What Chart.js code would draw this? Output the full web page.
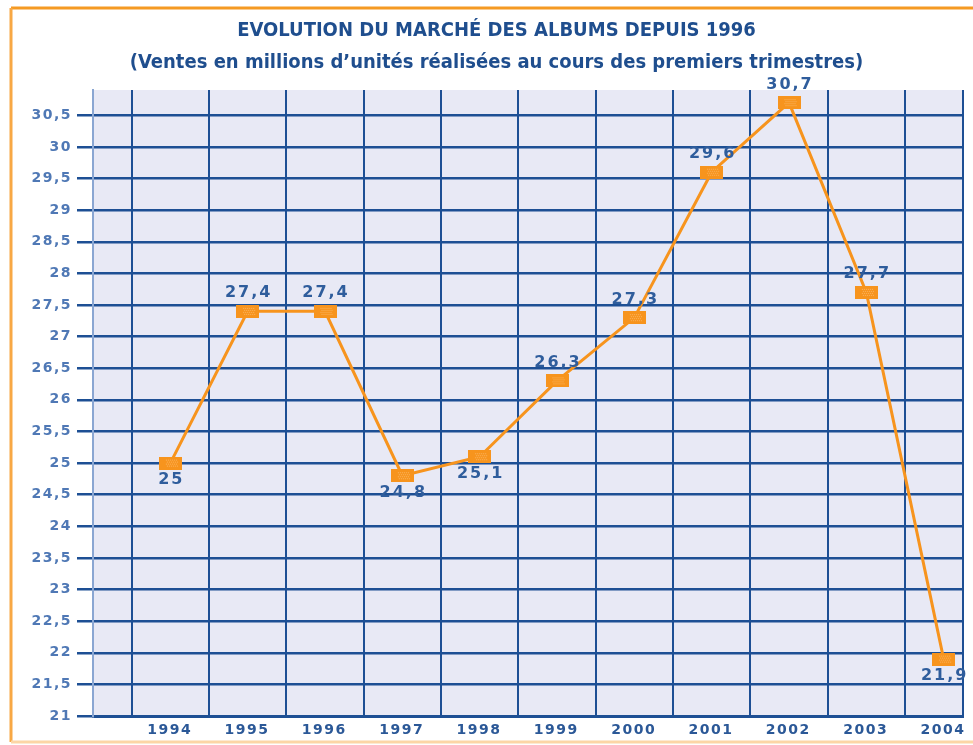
<!DOCTYPE html>
<html>
<head>
<meta charset="utf-8">
<script src="https://cdn.jsdelivr.net/npm/chart.js@4"></script>
<style>
    html, body { margin: 0; padding: 0; background: #fff; }
    #wrap { width: 973px; height: 745px; position: relative; }
</style>
</head>
<body>
<div id="wrap"><canvas id="chart" width="973" height="745"></canvas></div>
<script>
"use strict";

// data
const years = [1994, 1995, 1996, 1997, 1998, 1999, 2000, 2001, 2002, 2003, 2004];
const sales = [25, 27.4, 27.4, 24.8, 25.1, 26.3, 27.3, 29.6, 30.7, 27.7, 21.9];
const yTicks = [21, 21.5, 22, 22.5, 23, 23.5, 24, 24.5, 25, 25.5, 26, 26.5, 27, 27.5, 28, 28.5, 29, 29.5, 30, 30.5];
const labelsBelow = [0, 3, 4, 10]; // points whose value is written under the marker

const frenchNumber = v => String(v).replace(".", ",");

const canvas = document.getElementById("chart");

// orange box used as point marker, a bit of dither in the middle like the scan
const marker = document.createElement("canvas");
marker.width = 23;
marker.height = 13;
const mctx = marker.getContext("2d");
mctx.fillStyle = "#f7941d";
mctx.fillRect(0, 0, 23, 13);
mctx.fillStyle = "#fbb461";
for (let px = 7; px < 18; px += 2) {
    for (let py = 3; py < 10; py += 2) {
        mctx.fillRect(px + (py % 4 === 1 ? 1 : 0), py, 1, 1);
    }
}

const frameAndBackground = {
    id: "frameAndBackground",
    beforeDraw(chart) {
        const ctx = chart.ctx;
        const a = chart.chartArea;
        ctx.save();
        ctx.letterSpacing = "0px";
        // orange frame (cut off on the right)
        ctx.lineWidth = 3;
        ctx.strokeStyle = "#f59a23";
        ctx.beginPath();
        ctx.moveTo(11, 8);
        ctx.lineTo(973, 8);
        ctx.stroke();
        ctx.strokeStyle = "#f8a844";
        ctx.beginPath();
        ctx.moveTo(11, 8);
        ctx.lineTo(11, 742);
        ctx.stroke();
        ctx.strokeStyle = "#fcd6a6";
        ctx.beginPath();
        ctx.moveTo(11, 742);
        ctx.lineTo(973, 742);
        ctx.stroke();
        // plot background
        ctx.fillStyle = "#e8e9f5";
        ctx.fillRect(a.left, a.top, a.right - a.left, a.bottom - a.top);
        ctx.restore();
    },
    beforeDatasetsDraw(chart) {
        // the numbers of the original are set in a wide font
        chart.ctx.letterSpacing = "1.5px";
    },
    afterDraw(chart) {
        chart.ctx.letterSpacing = "0px";
    }
};

const valueLabels = {
    id: "valueLabels",
    afterDatasetsDraw(chart) {
        const ctx = chart.ctx;
        const meta = chart.getDatasetMeta(0);
        ctx.save();
        ctx.letterSpacing = "2px";
        ctx.font = "bold 16px 'DejaVu Sans', sans-serif";
        ctx.fillStyle = "#2f5d9c";
        ctx.textAlign = "center";
        ctx.textBaseline = "middle";
        meta.data.forEach((pt, i) => {
            const dy = labelsBelow.includes(i) ? 17 : -18;
            ctx.fillText(frenchNumber(sales[i]), pt.x + 1, pt.y + dy);
        });
        ctx.restore();
    }
};

new Chart(canvas, {
    type: "line",
    data: {
        datasets: [{
            label: "Ventes",
            data: years.map((y, i) => ({ x: y, y: sales[i] })),
            borderColor: "#f7941d",
            borderWidth: 3,
            pointStyle: marker,
            pointRadius: 7,
            tension: 0,
        }]
    },
    options: {
        responsive: false,
        animation: false,
        devicePixelRatio: 1,
        layout: {
            padding: { left: 28, right: 8, top: 10, bottom: 0 }
        },
        plugins: {
            legend: { display: false },
            tooltip: { enabled: false },
            title: {
                display: true,
                text: "EVOLUTION DU MARCHÉ DES ALBUMS DEPUIS 1996",
                color: "#1f4e8e",
                font: { family: "'Liberation Sans Narrow', 'DejaVu Sans Condensed', sans-serif", size: 20, weight: "bold", lineHeight: 1.2 },
                padding: { top: 9, bottom: 4 }
            },
            subtitle: {
                display: true,
                text: "(Ventes en millions d’unités réalisées au cours des premiers trimestres)",
                color: "#1f4e8e",
                font: { family: "'Liberation Sans Narrow', 'DejaVu Sans Condensed', sans-serif", size: 20, weight: "bold", lineHeight: 1.2 },
                padding: { top: 4, bottom: 15 }
            }
        },
        scales: {
            x: {
                type: "linear",
                min: 1993,
                max: 2004.25,
                afterBuildTicks: scale => {
                    // grid lines sit between the years, plus the right edge
                    scale.ticks = years.map(y => ({ value: y - 0.5 })).concat([{ value: 2004.25 }]);
                },
                afterFit: scale => { scale.height = 29; },
                grid: {
                    color: "#1d4f94",
                    lineWidth: 2,
                    drawTicks: false
                },
                border: { color: "#1d4f94", width: 3 },
                ticks: {
                    z: 1,
                    autoSkip: false,
                    maxRotation: 0,
                    padding: 6,
                    labelOffset: 38,
                    color: "#2b5897",
                    font: { family: "'DejaVu Sans', sans-serif", size: 14, weight: "bold" },
                    callback: (value, index) => index < years.length ? String(years[index]) : ""
                }
            },
            y: {
                min: 21,
                max: 30.9,
                afterBuildTicks: scale => {
                    scale.ticks = yTicks.map(v => ({ value: v }));
                },
                afterFit: scale => { scale.width = 65; },
                grid: {
                    color: "#1d4f94",
                    lineWidth: 2.5,
                    drawTicks: true,
                    tickLength: 16
                },
                border: { color: "#8aa6d2", width: 2 },
                ticks: {
                    z: 1,
                    padding: 5,
                    color: "#4f78b5",
                    font: { family: "'DejaVu Sans', sans-serif", size: 14, weight: "bold" },
                    callback: value => frenchNumber(value)
                }
            }
        }
    },
    plugins: [frameAndBackground, valueLabels]
});
</script>
</body>
</html>
